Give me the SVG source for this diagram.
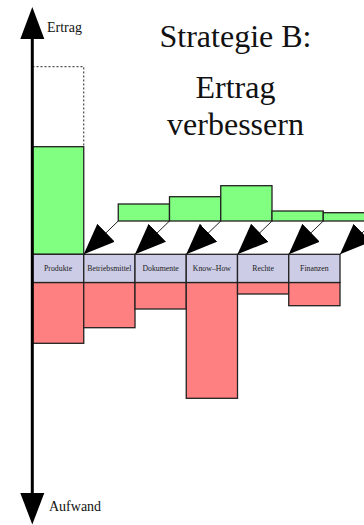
<svg xmlns="http://www.w3.org/2000/svg" width="364" height="525" viewBox="0 0 364 525">
<style>
  .bar { stroke: #222; stroke-width: 1.3; }
  .gain { fill: #80ff80; }
  .cost { fill: #ff8080; }
  .box { fill: #ccccE6; stroke: #222; stroke-width: 1.3; }
  .lbl { font-family: 'Liberation Serif', 'Times New Roman', 'DejaVu Serif', serif; font-size: 7.8px; fill: #222; text-anchor: middle; }
  .axlbl { font-family: 'Liberation Serif', 'Times New Roman', 'DejaVu Serif', serif; font-size: 14px; fill: #111; }
  .title { font-family: 'Liberation Serif', 'Times New Roman', 'DejaVu Serif', serif; font-size: 32px; fill: #111; text-anchor: middle; }
  .conn { stroke: #222; stroke-width: 1; fill: none; marker-end: url(#ah); }
</style>
<defs>
  <marker id="ah" markerUnits="userSpaceOnUse" markerWidth="32" markerHeight="26" refX="31" refY="13" orient="auto" viewBox="0 0 32 26">
    <path d="M0,0.5 L31,13 L0,25.5 z" fill="#000"/>
  </marker>
</defs>
<rect width="364" height="525" fill="#fff"/>

<g id="title">
  <text class="title" x="235.5" y="47">Strategie B:</text>
  <text class="title" x="235.5" y="97.5">Ertrag</text>
  <text class="title" x="235.5" y="134.5">verbessern</text>
</g>

<g id="produkte">
  <rect x="32.5" y="66.7" width="51.25" height="80" fill="none" stroke="#222" stroke-width="1" stroke-dasharray="2,2"/>
  <rect class="bar gain" x="32.5" y="146.7" width="51.25" height="107.6"/>
  <rect class="bar cost" x="32.5" y="282.5" width="51.25" height="60.8"/>
  <rect class="box" x="32.5" y="254.3" width="51.25" height="28.2"/>
  <text class="lbl" x="58.1" y="270.5">Produkte</text>
</g>

<g id="betriebsmittel">
  <rect class="bar gain" x="118.25" y="204" width="51.25" height="17"/>
  <rect class="bar cost" x="83.75" y="282.5" width="51.25" height="45.2"/>
  <rect class="box" x="83.75" y="254.3" width="51.25" height="28.2"/>
  <text class="lbl" x="109.4" y="270.5">Betriebsmittel</text>
</g>

<g id="dokumente">
  <rect class="bar gain" x="169.5" y="196.7" width="51.25" height="24.3"/>
  <rect class="bar cost" x="135" y="282.5" width="51.25" height="26.5"/>
  <rect class="box" x="135" y="254.3" width="51.25" height="28.2"/>
  <text class="lbl" x="160.6" y="270.5">Dokumente</text>
</g>

<g id="knowhow">
  <rect class="bar gain" x="220.75" y="185.7" width="51.25" height="35.3"/>
  <rect class="bar cost" x="186.25" y="282.5" width="51.25" height="115.8"/>
  <rect class="box" x="186.25" y="254.3" width="51.25" height="28.2"/>
  <text class="lbl" x="211.9" y="270.5">Know–How</text>
</g>

<g id="rechte">
  <rect class="bar gain" x="272" y="211" width="51.25" height="10"/>
  <rect class="bar cost" x="237.5" y="282.5" width="51.25" height="11.5"/>
  <rect class="box" x="237.5" y="254.3" width="51.25" height="28.2"/>
  <text class="lbl" x="263.1" y="270.5">Rechte</text>
</g>

<g id="finanzen">
  <rect class="bar gain" x="323.25" y="212.7" width="51.25" height="8.3"/>
  <rect class="bar cost" x="288.75" y="282.5" width="51.25" height="23.2"/>
  <rect class="box" x="288.75" y="254.3" width="51.25" height="28.2"/>
  <text class="lbl" x="314.4" y="270.5">Finanzen</text>
</g>

<g id="connectors">
  <line class="conn" x1="118.25" y1="221" x2="83.75" y2="254.3"/>
  <line class="conn" x1="169.5" y1="221" x2="135" y2="254.3"/>
  <line class="conn" x1="220.75" y1="221" x2="186.25" y2="254.3"/>
  <line class="conn" x1="272" y1="221" x2="237.5" y2="254.3"/>
  <line class="conn" x1="323.25" y1="221" x2="288.75" y2="254.3"/>
  <line class="conn" x1="374.5" y1="221" x2="340" y2="254.3"/>
</g>

<g id="axis">
  <line x1="32.3" y1="38" x2="32.3" y2="494" stroke="#000" stroke-width="3"/>
  <polygon points="32.3,7 44.3,39 20.3,39" fill="#000"/>
  <polygon points="32.3,524.5 44.3,493 20.3,493" fill="#000"/>
  <text class="axlbl" x="47" y="32">Ertrag</text>
  <text class="axlbl" x="49" y="510.5">Aufwand</text>
</g>
</svg>
